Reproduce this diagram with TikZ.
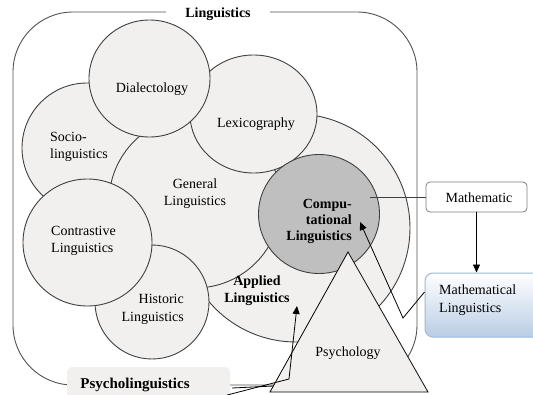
\documentclass[tikz,border=0pt]{standalone}
\usepackage{fontspec}
\setmainfont{Liberation Serif}
\usetikzlibrary{arrows.meta,shapes.geometric}
\definecolor{circfill}{HTML}{F1F0EF}
\definecolor{compfill}{HTML}{BFBFBF}
\definecolor{edge}{HTML}{404040}
\definecolor{boxedge}{HTML}{7F7F7F}
\definecolor{blueedge}{HTML}{9DB9DA}
\definecolor{bluefill}{HTML}{B9CDE5}
\begin{document}
\begin{tikzpicture}[x=1pt,y=-1pt,
  every node/.style={font=\fontsize{14}{17}\selectfont},
  bubble/.style={ellipse, draw=edge, line width=0.9pt, fill=circfill, inner sep=0pt},
  txt/.style={inner sep=0pt},
  conn/.style={draw=black, line width=0.8pt},
  tip/.style={-{Triangle[length=8pt,width=7pt]}}]
\useasboundingbox (0,0) rectangle (533,394);
\fill[white] (0,0) rectangle (533,394);

% outer frame
\node[draw=edge!90, line width=0.9pt, rounded corners=60, minimum width=404, minimum height=373, inner sep=0pt] (lingbox) at (215,198.5) {};
\node[fill=white, inner sep=0pt, minimum width=104, minimum height=14, font=\fontsize{14}{17}\selectfont\bfseries] (lingtitle) at (218,14) {Linguistics};

% circles
\node[bubble, minimum width=228, minimum height=228] (applied) at (296,228) {};
\node[bubble, minimum width=130, minimum height=130] (socio) at (87,148) {};
\node[bubble, minimum width=172, minimum height=172] (general) at (195,202) {};
\node[bubble, minimum width=127, minimum height=118] (lexi) at (253.5,114) {};
\node[bubble, fill=compfill, minimum width=121, minimum height=119] (comp) at (319,214) {};
\node[bubble, minimum width=114, minimum height=114] (historic) at (152,302) {};
\node[bubble, minimum width=129, minimum height=127] (contrast) at (87.5,242.5) {};
\node[bubble, minimum width=121, minimum height=117] (dialect) at (149.5,78.5) {};

% triangle
\coordinate (tapex) at (348,252);
\coordinate (tleft) at (270,392);
\coordinate (tright) at (428,392);
\filldraw[fill=circfill, draw=black, line width=0.8pt] (tapex) -- (tleft) -- (tright) -- cycle;

% texts (multi-line nodes: base = last line)
\node[txt, anchor=base] (tdialect) at (152,92) {Dialectology};
\node[txt, anchor=base] (tlexi) at (256,127) {Lexicography};
\node[txt, anchor=base west, align=left] (tsocio) at (50,158) {Socio-\\linguistics};
\node[txt, anchor=base, align=center] (tgeneral) at (195,205) {General\\Linguistics};
\node[txt, anchor=base west, align=left] (tcontrast) at (51,252) {Contrastive\\Linguistics};
\node[txt, anchor=base east, align=right, font=\fontsize{14}{18.5}\selectfont] (thistoric) at (184,321.5) {Historic\\Linguistics};
\node[txt, anchor=base east, align=right, font=\fontsize{14}{16}\selectfont\bfseries] (tcomp) at (352,240) {Compu-\\tational\\Linguistics};
\node[txt, anchor=base, align=center, font=\fontsize{14}{17}\selectfont\bfseries] (tapplied) at (257,302) {Applied\\Linguistics};
\node[txt, anchor=base] (tpsych) at (348,356) {Psychology};

% side boxes
\node[draw=boxedge, line width=0.8pt, fill=white, rounded corners=4, minimum width=101, minimum height=30, inner sep=0pt] (math) at (476.5,197) {};
\node[txt, anchor=base] (tmath) at (479,202) {Mathematic};
\node[draw=blueedge, line width=1pt, top color=white, bottom color=bluefill, rounded corners=8, minimum width=122, minimum height=64, inner sep=0pt] (mathling) at (486,305) {};
\node[txt, anchor=base west, align=left, font=\fontsize{14}{18}\selectfont] (tmathling) at (439,312) {Mathematical\\Linguistics};

\node[fill=circfill, rounded corners=5, minimum width=163, minimum height=40, inner sep=0pt] (psyl) at (148.5,387) {};
\node[txt, anchor=base, font=\fontsize{15}{18}\selectfont\bfseries] (tpsyl) at (135,388) {Psycholinguistics};

% connectors
\coordinate (mcin) at (370,197);
\draw[conn, draw=edge] (math.west) -- (mcin);
\draw[conn, tip] (math.south) -- (math.south |- mathling.north);
\coordinate (mlbend) at (403,318);
\coordinate (mltip) at (360,222);
\draw[conn, tip] ([yshift=13]mathling.west) -- (mlbend) -- (mltip);
\coordinate (psbend) at (289,379);
\coordinate (pstip) at (297,306);
\draw[conn, tip] ([xshift=-3,yshift=-8]psyl.east) -- (psbend) -- (pstip);
\coordinate (psyin) at (273.5,386);
\draw[conn] ([xshift=2,yshift=-1]psyl.east) -- (psyin);
\end{tikzpicture}
\end{document}
